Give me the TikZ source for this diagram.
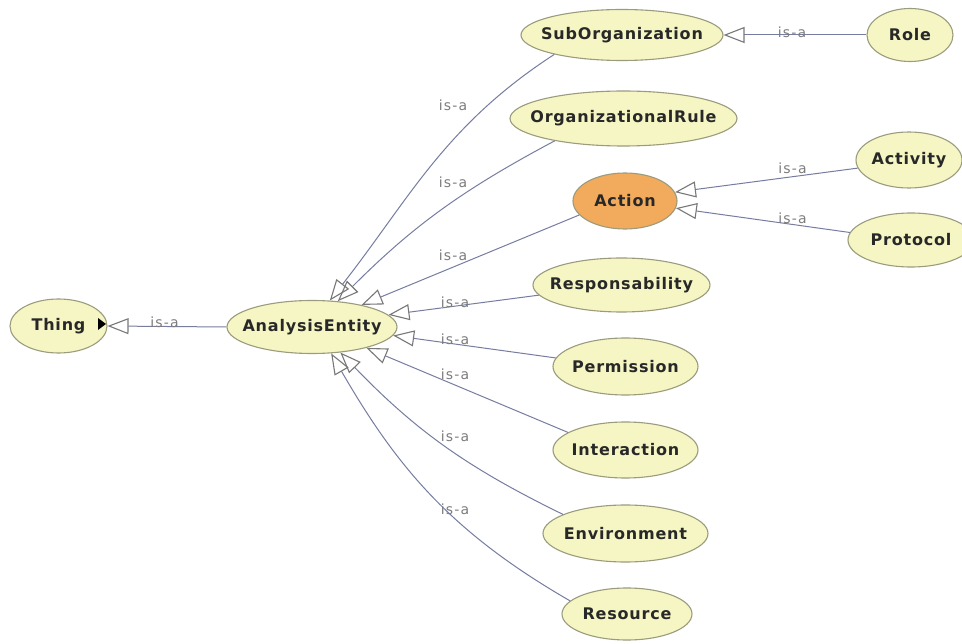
\documentclass[tikz,border=0pt]{standalone}
\usepackage{fontspec}
\usetikzlibrary{arrows.meta,shapes.geometric}

\newfontfamily\clsfont[LetterSpace=5]{DejaVu Sans}
\newfontfamily\relfont[LetterSpace=8]{DejaVu Sans}

\definecolor{clsfill}{RGB}{246,246,196}
\definecolor{clsline}{RGB}{155,155,125}
\definecolor{selfill}{RGB}{242,170,92}
\definecolor{edgeline}{RGB}{118,125,160}
\definecolor{tipline}{RGB}{120,120,120}
\definecolor{reltext}{RGB}{125,125,125}
\definecolor{clstext}{RGB}{40,40,40}

% class label with zero width, so the ellipse size comes from minimum width/height
\newcommand{\clslabel}[1]{\makebox[0pt][c]{#1}}

\tikzset{
  cls/.style={ellipse, draw=clsline, line width=1.1pt, fill=clsfill, inner sep=0pt,
    font=\clsfont\bfseries\fontsize{16}{18}\selectfont, text=clstext},
  selcls/.style={cls, fill=selfill},
  isa/.style={draw=edgeline, line width=1pt,
    -{Triangle[open, length=21pt, width=16pt, color=tipline, line width=1.1pt]}},
  rel/.style={font=\relfont\fontsize{14}{16}\selectfont, text=reltext, inner sep=0pt},
}

\begin{document}
\begin{tikzpicture}[x=1pt,y=1pt]
\useasboundingbox (0,-644) rectangle (962,0);
\clip (0,-644) rectangle (962,0);
\fill[white] (0,-644) rectangle (962,0);

% classes
\node[cls, minimum width=97pt,  minimum height=54pt] (thing)    at (58.5,-326)  {\clslabel{Thing}};
\node[cls, minimum width=170pt, minimum height=53pt] (ae)       at (312,-327)   {\clslabel{AnalysisEntity}};
\node[cls, minimum width=202pt, minimum height=51pt] (sub)      at (622,-35)    {\clslabel{SubOrganization}};
\node[cls, minimum width=86pt,  minimum height=53pt] (role)     at (910,-35)    {\clslabel{Role}};
\node[cls, minimum width=227pt, minimum height=55pt] (org)      at (623.5,-118.5) {\clslabel{OrganizationalRule}};
\node[selcls, minimum width=104pt, minimum height=56pt] (action) at (625,-201)  {\clslabel{Action}};
\node[cls, minimum width=106pt, minimum height=56pt] (activity) at (909,-160)   {\clslabel{Activity}};
\node[cls, minimum width=126pt, minimum height=54pt] (protocol) at (911,-240)   {\clslabel{Protocol}};
\node[cls, minimum width=177pt, minimum height=54pt] (resp)     at (621.5,-285) {\clslabel{Responsability}};
\node[cls, minimum width=145pt, minimum height=57pt] (perm)     at (625.5,-366.5) {\clslabel{Permission}};
\node[cls, minimum width=145pt, minimum height=56pt] (inter)    at (625.5,-450) {\clslabel{Interaction}};
\node[cls, minimum width=165pt, minimum height=57pt] (env)      at (625.5,-533.5) {\clslabel{Environment}};
\node[cls, minimum width=130pt, minimum height=52pt] (res)      at (627,-614)   {\clslabel{Resource}};

% expand marker inside Thing
\fill[black] (98,-318) -- (106,-324) -- (98,-330) -- cycle;

% is-a edges
\draw[isa] (ae.west) -- (thing.east);
\draw[isa] (role.west) -- (sub.east);
\draw[isa] (activity.189) -- (action.10);
\draw[isa] (protocol.173) -- (action.352);
\draw[isa] (sub.196) to[out=213, in=52] (ae.56);
\draw[isa] (org.198) to[out=208, in=45] (ae.45);
\draw[isa] (action.197) -- (ae.24);
\draw[isa] (resp.187) -- (ae.9);
\draw[isa] (perm.173) -- (ae.354);
\draw[isa] (inter.163) -- (ae.339);
\draw[isa] (env.163) to[out=154, in=314] (ae.318);
\draw[isa] (res.167) to[out=150, in=300] (ae.306);

% edge labels
\node[rel] (lthing) at (164.5,-322) {is-a};
\node[rel] (lrole)  at (792,-32)    {is-a};
\node[rel] (lact)   at (792.5,-168) {is-a};
\node[rel] (lprot)  at (792.5,-218) {is-a};
\node[rel] (lsub)   at (453,-105)   {is-a};
\node[rel] (lorg)   at (453,-182.5) {is-a};
\node[rel] (laction) at (453,-255)  {is-a};
\node[rel] (lresp)  at (455,-302)   {is-a};
\node[rel] (lperm)  at (455,-339)   {is-a};
\node[rel] (linter) at (455,-374)   {is-a};
\node[rel] (lenv)   at (455,-436)   {is-a};
\node[rel] (lres)   at (455,-509)   {is-a};
\end{tikzpicture}
\end{document}
